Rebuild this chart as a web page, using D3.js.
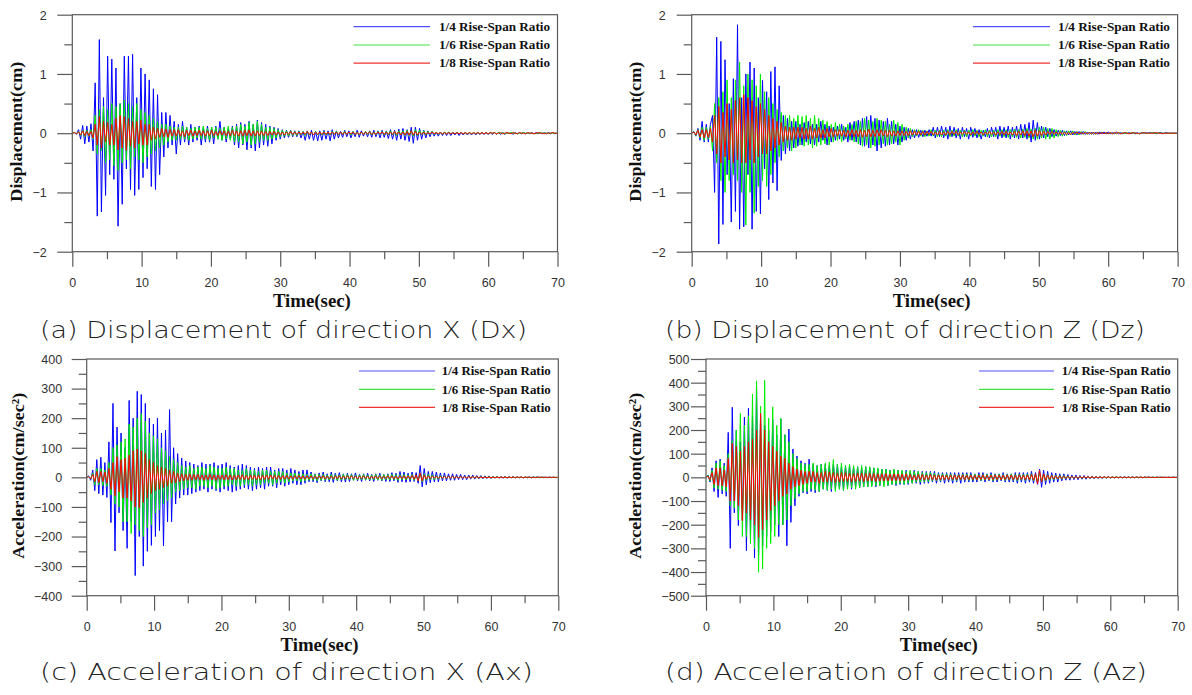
<!DOCTYPE html>
<html><head><meta charset="utf-8">
<script src="https://cdn.jsdelivr.net/npm/d3@7"></script>
<style>body{margin:0;background:#fff}svg{display:block}</style>
</head><body><svg id="c" width="1192" height="695"></svg>
<script>
const seriesNames = ["1/4 Rise-Span Ratio","1/6 Rise-Span Ratio","1/8 Rise-Span Ratio"];
const timeTicks = [0,10,20,30,40,50,60,70];
const dispTicks = [-2,-1,0,1,2];
const accXTicks = [-400,-300,-200,-100,0,100,200,300,400];
const accZTicks = [-500,-400,-300,-200,-100,0,100,200,300,400,500];
const dt = 0.3; // sampling step of the read-off series (s)

// (a) Displacement X
const dxBlue = [0,.01,-.02,.06,-.1,.13,-.18,.12,-.15,.16,
-.3,.85,-1.4,1.58,-1.33,.6,-1.05,1.3,-.7,1.25,
-.78,1.1,-1.57,.5,-1.2,1.3,-.6,1.3,-.95,1.33,
-1.05,.6,-.95,1.1,-.75,1.0,-.6,.9,-.9,.75,
-.95,.65,-.7,.35,-.4,.35,-.25,.3,-.2,.2,
-.35,.15,-.2,.2,-.15,.1,-.2,.15,-.15,.1,
-.12,.12,-.2,.1,-.15,.12,-.15,.1,-.18,.12,
-.1,.2,-.12,.1,-.15,.08,-.1,.12,-.2,.15,
-.25,.18,-.2,.15,-.28,.2,-.25,.15,-.3,.22,
-.25,.18,-.2,.15,-.22,.12,-.18,.1,-.12,.08,
-.1,.06,-.08,.05,-.07,.05,-.06,.04,-.06,.04,
-.08,.03,-.12,.04,-.1,.05,-.12,.03,-.13,.04,
-.12,.05,-.1,.04,-.13,.06,-.1,.04,-.08,.03,
-.07,.05,-.06,.04,-.08,.03,-.06,.05,-.07,.04,
-.05,.03,-.06,.04,-.07,.05,-.06,.04,-.08,.05,
-.07,.04,-.09,.06,-.1,.05,-.12,.07,-.1,.08,
-.12,.06,-.14,.1,-.17,.1,-.12,.08,-.1,.05,
-.08,.04,-.06,.03,-.05,.02,-.05,.02,-.04,.02,
-.04,.02,-.04,.01,-.03,.02,-.04,.01,-.03,.01,
-.03,.01,-.03,.01,-.03,.01,-.02,.01,-.02,.01,
-.02,.01,-.02,.01,-.02,.01,-.02,.01,-.02,.01,
-.01,.01,-.02,.01,-.01,.01,-.01,.01,-.01,.01,
-.01,.01,-.01,.01,-.01,.01,-.01,.01,-.01,.01,
-.01,.01,-.01,0];
const dxGreen = [0,.01,-.01,.03,-.04,.05,-.06,.05,-.05,.06,
-.1,.3,-.35,.4,-.3,.45,-.5,.4,-.45,.5,
-.55,.45,-.63,.5,-.5,.56,-.45,.5,-.6,.45,
-.4,.5,-.45,.4,-.5,.35,-.4,.3,-.35,.25,
-.3,.2,-.25,.15,-.2,.15,-.15,.12,-.12,.1,
-.12,.1,-.1,.12,-.1,.1,-.12,.08,-.1,.1,
-.08,.1,-.1,.12,-.1,.08,-.12,.1,-.08,.1,
-.1,.08,-.12,.1,-.1,.12,-.12,.1,-.15,.12,
-.15,.15,-.18,.12,-.15,.18,-.2,.15,-.18,.2,
-.15,.15,-.12,.1,-.12,.1,-.1,.08,-.08,.06,
-.06,.05,-.05,.04,-.05,.04,-.04,.03,-.04,.03,
-.03,.03,-.04,.03,-.03,.02,-.03,.03,-.03,.02,
-.03,.03,-.03,.02,-.03,.03,-.02,.03,-.03,.02,
-.02,.03,-.02,.02,-.03,.03,-.02,.02,-.03,.02,
-.02,.03,-.02,.03,-.03,.02,-.03,.03,-.02,.03,
-.03,.03,-.03,.04,-.03,.03,-.04,.04,-.03,.04,
-.04,.05,-.04,.04,-.05,.06,-.04,.05,-.03,.04,
-.03,.03,-.02,.03,-.02,.02,-.02,.02,-.02,.02,
-.01,.02,-.01,.01,-.01,.02,-.01,.01,-.01,.01,
-.01,.01,-.01,.01,-.01,.01,-.01,.01,-.01,.01,
-.01,.01,0,.01,-.01,.01,0,.01,-.01,0,
0,.01,0,0,-.01,0,0,.01,0,0,
0,0,-.01,0,0,.01,0,0,0,0,
0,0,0,0];
const dxRed = [0,.01,-.01,.02,-.03,.04,-.04,.03,-.04,.03,
-.08,.15,-.2,.28,-.25,.2,-.15,.18,-.2,.15,
-.2,.25,-.28,.3,-.25,.28,-.29,.25,-.22,.2,
-.25,.2,-.18,.22,-.2,.15,-.2,.15,-.12,.1,
-.1,.08,-.07,.08,-.06,.07,-.07,.06,-.05,.06,
-.05,.06,-.05,.04,-.06,.05,-.04,.05,-.05,.04,
-.04,.05,-.04,.04,-.05,.04,-.04,.05,-.04,.03,
-.04,.04,-.03,.04,-.04,.03,-.04,.05,-.04,.04,
-.05,.04,-.05,.05,-.04,.05,-.05,.04,-.05,.04,
-.04,.04,-.04,.03,-.04,.03,-.03,.03,-.03,.02,
-.03,.02,-.03,.02,-.02,.03,-.02,.02,-.02,.02,
-.02,.02,-.02,.03,-.02,.02,-.03,.02,-.02,.02,
-.02,.02,-.02,.02,-.02,.02,-.02,.02,-.02,.02,
-.02,.02,-.02,.02,-.01,.02,-.02,.01,-.02,.02,
-.02,.02,-.01,.02,-.02,.01,-.02,.02,-.01,.02,
-.02,.02,-.02,.02,-.02,.03,-.02,.02,-.03,.02,
-.03,.03,-.03,.04,-.03,.03,-.03,.02,-.02,.02,
-.02,.01,-.01,.02,-.01,.01,-.01,.01,-.01,.01,
-.01,.01,-.01,.01,-.01,.01,-.01,.01,-.01,.01,
-.01,.01,-.01,.01,-.01,.01,-.01,.01,-.01,.01,
-.01,.01,0,.01,-.01,0,.01,-.01,0,.01,
0,-.01,.01,0,-.01,.01,0,0,-.01,.01,
0,0,-.01,0,.01,0,0,-.01,0,0,
0,.01,0,0];

// (b) Displacement Z
const dzBlue = [0,.03,-.05,.08,-.12,.2,-.15,.15,-.15,.15,
.3,-1.0,1.62,-1.87,1.55,-1.54,1.24,-.7,.5,-1.5,
.92,-1.32,1.83,-1.62,.6,-1.58,1.0,-.7,1.2,-1.62,
1.1,-1.32,.6,-1.36,.89,-.6,.7,-1.12,1.04,-.84,
1.12,-.97,.8,-.46,.3,-.35,.25,-.3,.2,-.25,
.2,-.22,.15,-.2,.18,-.15,.2,-.18,.15,-.2,
.15,-.15,.2,-.12,.15,-.2,.12,-.15,.1,-.12,
.12,-.1,.15,-.12,.1,-.15,.18,-.12,.2,-.15,
.22,-.2,.25,-.22,.28,-.25,.3,-.2,.25,-.3,
.22,-.25,.2,-.22,.25,-.2,.2,-.18,.15,-.2,
.12,-.15,.1,-.12,.08,-.1,.06,-.08,.06,-.07,
.05,-.06,.05,-.05,.06,-.05,.1,-.08,.1,-.06,
.12,-.08,.1,-.1,.12,-.06,.1,-.08,.08,-.1,
.1,-.06,.08,-.1,.1,-.07,.08,-.08,.06,-.1,
.05,-.06,.08,-.08,.1,-.06,.1,-.1,.12,-.08,
.1,-.08,.12,-.1,.1,-.08,.12,-.1,.15,-.08,
.15,-.1,.18,-.15,.22,-.12,.18,-.1,.12,-.08,
.1,-.06,.08,-.06,.06,-.05,.05,-.04,.05,-.04,
.04,-.03,.04,-.03,.03,-.03,.03,-.02,.03,-.02,
.02,-.02,.02,-.02,.02,-.02,.02,-.01,.02,-.01,
.02,-.01,.01,-.01,.02,-.01,.01,-.01,.01,-.01,
.01,-.01,.01,-.01,.01,-.01,.01,0,.01,0,
.01,0,.01,-.01,0,.01,0,0,.01,0,
0,0,0,0];
const dzGreen = [0,.02,-.04,.06,-.08,.1,-.12,.1,-.1,.12,
-.3,.5,-.5,.6,-.8,.7,-1.0,.9,-.8,.6,
-.7,.9,-.8,1.2,-1.0,.8,-1.55,1.0,-1.0,.9,
-1.35,.8,-.9,1.0,-.8,.7,-.9,.6,-.7,.5,
-.5,.4,-.4,.35,-.3,.3,-.25,.3,-.3,.25,
-.25,.3,-.2,.28,-.22,.3,-.2,.25,-.25,.3,
-.22,.25,-.2,.22,-.18,.2,-.2,.15,-.15,.18,
-.12,.15,-.15,.12,-.1,.15,-.12,.15,-.15,.2,
-.18,.2,-.22,.25,-.2,.22,-.25,.2,-.22,.25,
-.2,.22,-.18,.2,-.2,.15,-.18,.22,-.15,.18,
-.2,.15,-.12,.1,-.08,.08,-.06,.06,-.05,.06,
-.05,.05,-.06,.04,-.05,.06,-.05,.05,-.06,.05,
-.06,.05,-.05,.06,-.06,.05,-.05,.06,-.05,.05,
-.06,.05,-.06,.05,-.05,.06,-.05,.05,-.06,.05,
-.05,.06,-.06,.05,-.06,.05,-.06,.06,-.05,.06,
-.06,.06,-.07,.06,-.06,.07,-.07,.06,-.08,.07,
-.07,.08,-.08,.07,-.1,.08,-.1,.1,-.08,.1,
-.1,.08,-.1,.08,-.08,.06,-.06,.05,-.05,.04,
-.04,.04,-.03,.04,-.03,.03,-.03,.03,-.02,.03,
-.02,.02,-.02,.02,-.02,.02,-.01,.02,-.01,.01,
-.01,.01,-.01,.01,-.01,.01,-.01,.01,-.01,.01,
-.01,.01,0,.01,-.01,0,0,.01,0,0,
0,.01,0,0,0,0,0,0,0,0,
0,0,0,0];
const dzRed = [0,.02,-.03,.05,-.06,.06,-.08,.06,-.07,.08,
-.15,.3,-.35,.45,-.5,.35,-.4,.5,-.45,.4,
-.5,.55,-.45,.6,-.5,.65,-.5,.6,-.45,.55,
-.5,.45,-.4,.5,-.35,.4,-.35,.3,-.3,.25,
-.25,.2,-.2,.18,-.15,.12,-.12,.1,-.12,.1,
-.1,.1,-.08,.1,-.1,.08,-.1,.12,-.1,.08,
-.08,.1,-.08,.06,-.08,.08,-.06,.08,-.06,.06,
-.05,.06,-.05,.05,-.06,.05,-.05,.06,-.06,.05,
-.06,.06,-.07,.05,-.06,.07,-.06,.05,-.06,.06,
-.05,.06,-.05,.05,-.06,.05,-.05,.04,-.05,.04,
-.04,.04,-.04,.03,-.04,.04,-.03,.04,-.03,.03,
-.03,.03,-.03,.03,-.02,.03,-.03,.02,-.03,.03,
-.03,.02,-.03,.03,-.02,.03,-.02,.03,-.03,.02,
-.02,.03,-.02,.02,-.03,.02,-.02,.03,-.02,.02,
-.03,.02,-.02,.03,-.02,.02,-.03,.02,-.02,.03,
-.03,.03,-.03,.02,-.03,.03,-.04,.03,-.03,.04,
-.04,.04,-.05,.04,-.06,.05,-.05,.04,-.04,.03,
-.03,.03,-.02,.03,-.02,.02,-.02,.02,-.02,.02,
-.02,.01,-.02,.01,-.01,.02,-.01,.01,-.01,.01,
-.01,.01,-.01,.01,-.01,.01,-.01,.01,-.01,.01,
-.01,.01,-.01,.01,0,.01,-.01,0,.01,0,
-.01,0,.01,0,0,-.01,0,.01,0,0,
0,0,0,.01,0,0,-.01,0,0,0,
0,0,0,0];

// (c) Acceleration X
const axBlue = [0,5,-10,25,-45,60,-55,68,-60,50,
-68,120,-153,250,-249,170,-120,150,-180,100,
-240,260,-150,200,-332,291,-200,280,-300,250,
-250,200,-230,180,-200,200,-180,150,-232,160,
-150,229,-150,100,-90,80,-70,65,-60,55,
-60,50,-55,45,-50,40,-45,50,-40,45,
-50,45,-40,50,-45,40,-50,45,-40,50,
-45,40,-50,35,-45,40,-40,45,-35,40,
-40,35,-45,30,-40,35,-35,30,-40,35,
-30,35,-30,25,-35,30,-25,30,-30,25,
-25,30,-20,25,-25,20,-25,25,-20,25,
-15,18,-15,12,-18,15,-12,18,-15,12,
-15,18,-17,14,-12,16,-15,12,-16,14,
-14,12,-10,15,-12,10,-14,12,-10,14,
-12,10,-14,12,-10,14,-12,10,-14,12,
-14,16,-12,14,-17,20,-15,18,-17,14,
-15,18,-14,16,-20,40,-32,30,-25,20,
-18,20,-15,18,-15,15,-12,15,-12,12,
-10,12,-10,10,-8,10,-8,8,-8,8,
-6,8,-6,6,-5,6,-5,5,-4,5,
-4,4,-3,4,-3,3,-3,3,-3,3,
-2,3,-2,2,-2,2,-2,2,-2,2,
-2,2,-1,2,-1,1,-1,1,-1,1,
-1,1,-1,0];
const axGreen = [0,3,-6,15,-25,30,-25,30,-28,25,
-30,50,-60,100,-90,110,-100,120,-150,130,
-150,180,-190,170,-160,200,-180,215,-200,190,
-170,150,-160,140,-120,130,-110,100,-90,90,
-80,70,-70,60,-50,50,-45,40,-40,35,
-35,40,-35,30,-40,35,-30,35,-30,30,
-35,40,-30,35,-40,30,-35,30,-30,35,
-30,30,-25,30,-30,25,-30,25,-25,30,
-25,25,-30,25,-25,20,-25,25,-20,25,
-20,20,-25,20,-20,20,-15,20,-20,15,
-15,15,-12,15,-12,12,-15,12,-12,10,
-10,12,-10,10,-12,10,-10,10,-10,8,
-9,10,-8,9,-10,8,-9,10,-8,9,
-8,9,-10,8,-9,8,-8,10,-9,8,
-9,8,-8,10,-9,8,-10,9,-8,9,
-9,10,-8,9,-10,9,-8,10,-9,8,
-8,10,-10,8,-12,15,-15,12,-10,10,
-8,8,-8,6,-6,6,-5,5,-5,4,
-4,4,-3,4,-3,3,-3,3,-3,3,
-2,3,-2,2,-2,2,-2,2,-2,2,
-2,2,-1,2,-1,1,-1,1,-1,1,
-1,1,-1,1,-1,1,-1,1,-1,1,
-1,1,0,1,-1,0,1,-1,0,0,
0,0,0,0];
const axRed = [0,2,-5,10,-15,20,-18,20,-15,18,
-20,30,-40,50,-62,70,-50,60,-70,65,
-70,75,-80,90,-100,96,-102,90,-85,80,
-70,60,-55,50,-45,40,-40,35,-35,30,
-30,25,-20,20,-18,15,-15,12,-12,10,
-10,12,-10,10,-8,10,-8,8,-10,8,
-8,10,-8,8,-10,8,-7,8,-8,9,
-8,8,-9,7,-8,8,-7,9,-8,7,
-8,8,-7,8,-8,7,-8,8,-7,8,
-7,8,-6,7,-7,6,-7,6,-6,7,
-6,5,-6,5,-5,6,-5,5,-6,5,
-5,5,-5,4,-5,5,-4,5,-5,4,
-5,4,-5,5,-4,5,-5,4,-4,5,
-4,5,-4,4,-5,4,-4,5,-4,4,
-5,4,-4,5,-4,4,-5,4,-4,5,
-4,5,-5,4,-5,5,-4,5,-5,5,
-5,6,-6,8,-12,15,-12,8,-6,5,
-4,4,-3,4,-3,3,-3,3,-3,3,
-2,3,-2,2,-2,2,-2,2,-2,2,
-2,2,-1,2,-1,1,-1,1,-1,1,
-1,1,-1,1,-1,1,-1,1,-1,1,
-1,1,-1,1,0,1,-1,0,1,0,
0,0,-1,0,1,0,0,0,0,0,
0,0,0,0];

// (d) Acceleration Z
const azBlue = [0,10,-20,40,-60,70,-85,77,-70,60,
-80,190,-300,296,-150,200,-204,150,-180,254,
-310,292,-250,260,-341,390,-330,260,-290,220,
-250,200,-230,246,-200,180,-250,246,-200,180,
-289,204,-190,120,-120,90,-80,70,-65,60,
-70,77,-60,55,-65,50,-60,55,-50,55,
-55,50,-60,55,-50,55,-50,45,-55,50,
-45,50,-50,45,-40,45,-45,40,-40,45,
-40,40,-35,40,-40,35,-35,35,-30,35,
-35,30,-30,30,-35,30,-30,25,-30,30,
-30,25,-25,30,-25,25,-30,25,-25,25,
-25,25,-20,25,-25,20,-20,20,-25,20,
-20,20,-25,20,-20,20,-25,20,-20,20,
-20,20,-20,15,-20,20,-15,20,-20,15,
-15,20,-20,15,-20,15,-15,20,-20,15,
-20,15,-20,20,-25,20,-20,20,-25,20,
-20,25,-25,20,-30,35,-42,30,-30,25,
-25,20,-20,18,-20,15,-15,15,-12,12,
-12,10,-10,10,-10,8,-8,8,-8,6,
-6,6,-6,5,-5,5,-5,4,-4,4,
-4,3,-3,3,-3,3,-3,3,-2,2,
-2,2,-2,2,-2,2,-2,2,-1,2,
-1,1,-1,1,-1,1,-1,1,-1,1,
-1,1,0,0];
const azGreen = [0,8,-15,30,-45,60,-50,70,-55,50,
-60,100,-120,155,-130,200,-180,270,-250,220,
-250,260,-280,352,-300,408,-401,300,-387,410,
-300,250,-280,298,-250,220,-200,250,-200,180,
-180,150,-120,100,-90,80,-70,60,-60,55,
-60,55,-50,60,-55,50,-60,55,-50,60,
-55,65,-50,75,-60,55,-50,60,-55,50,
-50,55,-45,50,-50,45,-45,50,-40,45,
-40,45,-40,40,-35,40,-35,35,-40,35,
-35,30,-30,35,-30,30,-25,30,-30,25,
-25,30,-25,25,-20,25,-20,20,-20,20,
-18,20,-15,18,-15,15,-15,15,-12,15,
-12,14,-13,12,-14,12,-12,13,-12,14,
-13,12,-12,14,-12,12,-13,12,-12,13,
-12,13,-14,12,-12,13,-12,12,-13,12,
-12,14,-13,12,-14,13,-12,14,-13,14,
-12,15,-15,12,-18,20,-20,15,-15,12,
-12,10,-10,10,-8,8,-8,8,-6,6,
-5,5,-5,4,-4,4,-4,3,-3,3,
-3,3,-3,2,-2,2,-2,2,-2,2,
-2,2,-1,2,-1,1,-1,1,-1,1,
-1,1,-1,1,-1,1,-1,1,-1,1,
-1,1,0,1,-1,0,1,-1,0,0,
0,0,0,0];
const azRed = [0,5,-10,20,-30,40,-35,40,-35,30,
-40,80,-100,143,-100,130,-120,110,-183,130,
-150,150,-180,160,-200,200,-253,270,-220,200,
-180,150,-140,130,-120,110,-100,90,-80,80,
-70,60,-50,45,-40,35,-35,30,-30,25,
-25,25,-20,25,-20,20,-25,20,-20,25,
-20,22,-18,20,-22,18,-20,20,-18,20,
-18,18,-20,16,-18,18,-16,18,-18,16,
-16,18,-15,16,-18,15,-16,15,-15,16,
-15,14,-15,15,-14,15,-15,14,-14,15,
-12,12,-12,10,-12,12,-10,12,-12,10,
-10,12,-10,10,-12,10,-10,10,-10,9,
-10,9,-9,10,-10,9,-9,10,-10,9,
-9,10,-9,9,-10,9,-9,10,-9,9,
-10,9,-9,10,-9,9,-10,9,-9,10,
-9,10,-10,9,-10,10,-9,10,-10,10,
-10,12,-12,15,-28,30,-20,15,-12,10,
-8,8,-7,7,-6,6,-5,5,-5,4,
-4,4,-4,3,-3,3,-3,3,-2,3,
-2,2,-2,2,-2,2,-2,2,-1,2,
-1,1,-1,1,-1,1,-1,1,-1,1,
-1,1,-1,1,0,1,-1,0,1,0,
0,0,-1,0,1,0,0,0,0,0,
0,0,0,0];

// ---------------- layout & styles ----------------
const lineColors = ["#0000ff","#00ee00","#ff0000"];
const legendColors = ["#5050ff","#44e044","#ee3333"];
const frameColor = "#5a5a5a";
const serif = "'Liberation Serif','Times New Roman',serif";
const sans = "'Liberation Sans',Arial,sans-serif";

const panels = [
  {series:[dxBlue,dxGreen,dxRed], ticks:dispTicks, minor:0.5, left:72.3, right:557.5, top:14.7, bottom:251.7,
   labGap:10.6, ylab:"Displacement(cm)", ylabX:15.7, ylabLen:140, legA:204, legB:127.5, legT:118.5, legLen:111,
   cap:"(a) Displacement of direction X (Dx)", capX0:40, capX1:527, capY:330},
  {series:[dzBlue,dzGreen,dzRed], ticks:dispTicks, minor:0.5, left:691.7, right:1177.6, top:14.7, bottom:251.7,
   labGap:11, ylab:"Displacement(cm)", ylabX:635.5, ylabLen:140, legA:204.6, legB:127.6, legT:119.6, legLen:112,
   cap:"(b) Displacement of direction Z (Dz)", capX0:665, capX1:1145, capY:330},
  {series:[axBlue,axGreen,axRed], ticks:accXTicks, minor:50, left:86.7, right:558.3, top:359, bottom:595.7,
   labGap:9.5, ylab:"Acceleration(cm/sec²)", ylabX:18.3, ylabLen:166, legA:199.3, legB:123.3, legT:116.6, legLen:109,
   cap:"(c) Acceleration of direction X (Ax)", capX0:40, capX1:533, capY:672},
  {series:[azBlue,azGreen,azRed], ticks:accZTicks, minor:50, left:706, right:1177.7, top:359, bottom:595.7,
   labGap:1.5, ylab:"Acceleration(cm/sec²)", ylabX:635.5, ylabLen:166, legA:198.7, legB:123.7, legT:116, legLen:109,
   cap:"(d) Acceleration of direction Z (Az)", capX0:665, capX1:1147, capY:672}
];

const svg = d3.select("#c");
svg.append("rect").attr("width",1192).attr("height",695).attr("fill","#fff");

panels.forEach((p, pi) => {
  const g = svg.append("g");
  const dom = [p.ticks[0], p.ticks[p.ticks.length-1]];
  const x = d3.scaleLinear().domain([timeTicks[0], timeTicks[timeTicks.length-1]]).range([p.left, p.right]);
  const y = d3.scaleLinear().domain(dom).range([p.bottom, p.top]);

  const yMinor = d3.range(dom[0], dom[1] + 1e-9, p.minor).filter(v => !p.ticks.some(t => Math.abs(t - v) < 1e-9));
  const xMinor = [5,15,25,35,45,55,65];

  const yAxMinor = g.append("g").attr("transform",`translate(${p.left},0)`)
    .call(d3.axisLeft(y).tickValues(yMinor).tickSize(8).tickSizeOuter(0).tickFormat(""));
  const xAxMinor = g.append("g").attr("transform",`translate(0,${p.bottom})`)
    .call(d3.axisBottom(x).tickValues(xMinor).tickSize(7.5).tickSizeOuter(0).tickFormat(""));
  const yAx = g.append("g").attr("transform",`translate(${p.left},0)`)
    .call(d3.axisLeft(y).tickValues(p.ticks).tickSize(15).tickSizeOuter(0).tickPadding(p.labGap).tickFormat(d3.format("d")));
  const xAx = g.append("g").attr("transform",`translate(0,${p.bottom})`)
    .call(d3.axisBottom(x).tickValues(timeTicks).tickSize(15).tickSizeOuter(0).tickFormat(d3.format("d")));
  [yAxMinor,xAxMinor,yAx,xAx].forEach(a => {
    a.select(".domain").remove();
    a.selectAll("line").attr("stroke", frameColor).attr("stroke-width", 1.2);
    a.selectAll("text").attr("fill","#333").style("font-family", sans).style("font-size","12.5px");
  });
  xAx.selectAll("text").attr("y", 31).attr("dy","0.35em");
  yAx.selectAll("text").attr("dy","0.35em");

  const cid = "clip" + pi;
  g.append("clipPath").attr("id", cid).append("rect")
    .attr("x", p.left).attr("y", p.top).attr("width", p.right - p.left).attr("height", p.bottom - p.top);
  const line = d3.line().x((d,i) => x(i * dt)).y(d => y(d));
  const sg = g.append("g").attr("clip-path", `url(#${cid})`);
  p.series.forEach((s, si) => {
    sg.append("path").datum(s).attr("d", line).attr("fill","none")
      .attr("stroke", lineColors[si]).attr("stroke-width", 1).attr("stroke-linejoin","round");
  });

  g.append("rect").attr("x", p.left).attr("y", p.top).attr("width", p.right - p.left).attr("height", p.bottom - p.top)
    .attr("fill","none").attr("stroke", frameColor).attr("stroke-width", 1.2);

  const rows = [12, 30.3, 48.4];
  seriesNames.forEach((n, si) => {
    const ly = p.top + rows[si];
    g.append("line").attr("x1", p.right - p.legA).attr("x2", p.right - p.legB).attr("y1", ly).attr("y2", ly)
      .attr("stroke", legendColors[si]).attr("stroke-width", 1.2);
    g.append("text").attr("x", p.right - p.legT).attr("y", ly).attr("dy","0.35em")
      .attr("textLength", p.legLen).attr("lengthAdjust","spacingAndGlyphs")
      .style("font-family", serif).style("font-weight","bold").style("font-size","12.5px").attr("fill","#111")
      .text(n);
  });

  const cx = (p.left + p.right) / 2 - 3;
  g.append("text").attr("x", cx).attr("y", p.bottom + 48.5).attr("dy","0.35em").attr("text-anchor","middle")
    .attr("textLength", 78).attr("lengthAdjust","spacingAndGlyphs")
    .style("font-family", serif).style("font-weight","bold").style("font-size","18px").attr("fill","#111")
    .text("Time(sec)");
  const cy = (p.top + p.bottom) / 2 - 1.5;
  g.append("text").attr("transform", `translate(${p.ylabX},${cy}) rotate(-90)`).attr("dy","0.35em").attr("text-anchor","middle")
    .attr("textLength", p.ylabLen).attr("lengthAdjust","spacingAndGlyphs")
    .style("font-family", serif).style("font-weight","bold").style("font-size","17px").attr("fill","#111")
    .text(p.ylab);

  g.append("text").attr("x", p.capX0).attr("y", p.capY).attr("dy","0.36em")
    .attr("textLength", p.capX1 - p.capX0).attr("lengthAdjust","spacingAndGlyphs")
    .style("font-family","'DejaVu Sans','Noto Sans',sans-serif").style("font-weight","200").style("font-size","23px").attr("fill","#222")
    .text(p.cap);
});
</script>
</body></html>
